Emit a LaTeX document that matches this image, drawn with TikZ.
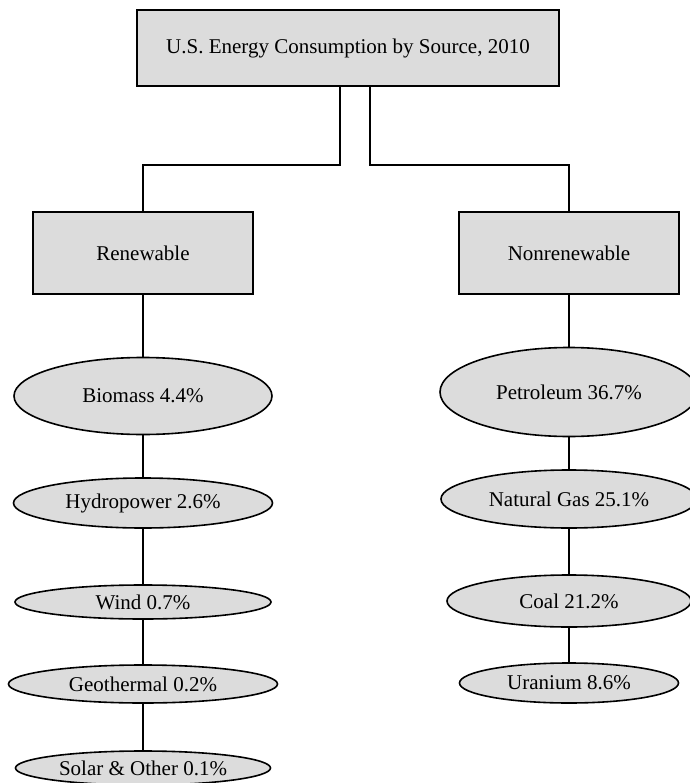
\documentclass[tikz,border=0pt]{standalone}
\usepackage{fontspec}
\setmainfont{Liberation Serif}
\usetikzlibrary{shapes.geometric}
\definecolor{boxgray}{HTML}{DCDCDC}
\tikzset{
  catbox/.style={draw=black, fill=boxgray, line width=1.8pt, rectangle, inner sep=0pt, font=\fontsize{21}{24}\selectfont},
  src/.style={draw=black, fill=boxgray, line width=1.6pt, ellipse, inner sep=0pt, font=\fontsize{21}{24}\selectfont},
  link/.style={line width=1.6pt, draw=black}
}
\begin{document}
\begin{tikzpicture}[x=1pt, y=-1pt]
\useasboundingbox (0,0) rectangle (689,783);
\fill[white] (0,0) rectangle (689,783);

% header and the two categories
\node[catbox, minimum width=422pt, minimum height=76pt] (top) at (348,48) {U.S. Energy Consumption by Source, 2010};
\node[catbox, minimum width=220pt, minimum height=82pt] (ren) at (143,253) {Renewable};
\node[catbox, minimum width=220pt, minimum height=82pt] (non) at (569,253) {Nonrenewable};

% renewable sources
\node[src, minimum width=258pt, minimum height=77pt] (bio) at (143,396) {Biomass 4.4\%};
\node[src, minimum width=259pt, minimum height=50pt] (hyd) at (143,503) {Hydropower 2.6\%};
\node[src, minimum width=256pt, minimum height=34pt] (wind) at (143,602) {Wind 0.7\%};
\node[src, minimum width=269pt, minimum height=38pt] (geo) at (143,684) {Geothermal 0.2\%};
\node[src, minimum width=255pt, minimum height=34pt] (sol) at (143,768) {Solar \& Other 0.1\%};

% nonrenewable sources
\node[src, minimum width=258pt, minimum height=89pt] (pet) at (569,392) {Petroleum 36.7\%};
\node[src, minimum width=256pt, minimum height=58pt] (gas) at (569,499) {Natural Gas 25.1\%};
\node[src, minimum width=244pt, minimum height=52pt] (coal) at (569,601) {Coal 21.2\%};
\node[src, minimum width=219pt, minimum height=40pt] (ura) at (569,683) {Uranium 8.6\%};

% split points below the header
\coordinate (ls) at (340,165);
\coordinate (rs) at (370,165);

\draw[link] (top.south -| ls) -- (ls) -| (ren);
\draw[link] (top.south -| rs) -- (rs) -| (non);

\draw[link] (ren) -- (bio);
\draw[link] (bio) -- (hyd);
\draw[link] (hyd) -- (wind);
\draw[link] (wind) -- (geo);
\draw[link] (geo) -- (sol);

\draw[link] (non) -- (pet);
\draw[link] (pet) -- (gas);
\draw[link] (gas) -- (coal);
\draw[link] (coal) -- (ura);
\end{tikzpicture}
\end{document}
